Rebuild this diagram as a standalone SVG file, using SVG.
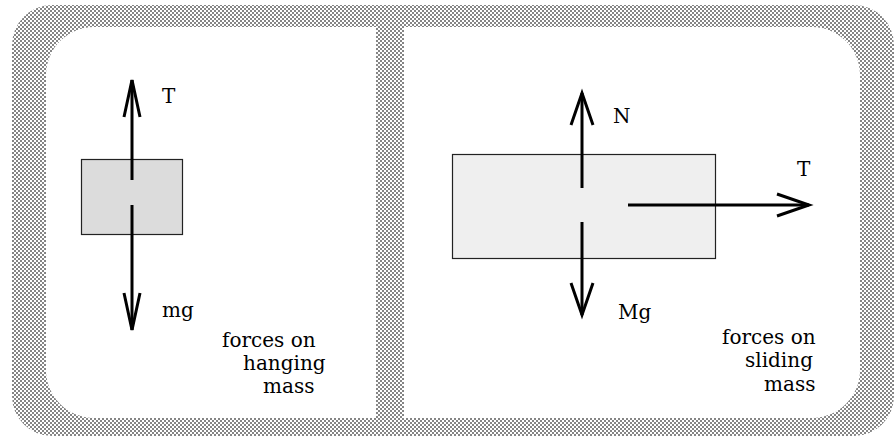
<svg xmlns="http://www.w3.org/2000/svg" width="895" height="437" viewBox="0 0 895 437">
  <style>
    .lbl { font-family: "DejaVu Serif", "Liberation Serif", serif; font-size: 20px; fill: #000; }
    .shaft { fill: none; stroke: #000; stroke-width: 3; }
    .box { stroke: #222; stroke-width: 1.2; }
    .panel { fill: #fff; }
  </style>
  <defs>
    <pattern id="dither" width="4" height="4" patternUnits="userSpaceOnUse">
      <rect width="4" height="4" fill="#fff"/>
      <rect x="0" y="0" width="2" height="2" fill="#858585"/>
      <rect x="2" y="2" width="2" height="2" fill="#858585"/>
    </pattern>
    <marker id="headL" markerUnits="userSpaceOnUse" markerWidth="44" markerHeight="24" refX="37" refY="12" orient="auto" overflow="visible">
      <path d="M0,4 L37,12 L0,20" fill="none" stroke="#000" stroke-width="3"/>
    </marker>
    <marker id="headR" markerUnits="userSpaceOnUse" markerWidth="40" markerHeight="28" refX="32" refY="14" orient="auto" overflow="visible">
      <path d="M0,3 L32,14 L0,25" fill="none" stroke="#000" stroke-width="3"/>
    </marker>
  </defs>

  <g id="frame">
    <rect x="12" y="5" width="882" height="431" rx="40" ry="40" fill="url(#dither)"/>
    <path class="panel" d="M94 27 H376 V418 H94 A48 48 0 0 1 46 370 V75 A48 48 0 0 1 94 27 Z"/>
    <path class="panel" d="M404 27 H812 A48 48 0 0 1 860 75 V370 A48 48 0 0 1 812 418 H404 Z"/>
  </g>

  <g id="hanging-mass">
    <rect class="box" x="81.5" y="159.5" width="101" height="75" fill="#dcdcdc"/>
  </g>

  <g id="sliding-mass">
    <rect class="box" x="452.5" y="154.5" width="263" height="104" fill="#efefef"/>
  </g>

  <g id="connectors">
    <path id="arrow-T-hanging" class="shaft" d="M132 180 V80" marker-end="url(#headL)"/>
    <path id="arrow-mg" class="shaft" d="M132 205 V330" marker-end="url(#headL)"/>
    <path id="arrow-N" class="shaft" d="M582 188 V93" marker-end="url(#headR)"/>
    <path id="arrow-Mg" class="shaft" d="M582 222 V315" marker-end="url(#headR)"/>
    <path id="arrow-T-sliding" class="shaft" d="M628 205 H809" marker-end="url(#headR)"/>
  </g>

  <g id="labels">
    <text class="lbl" x="162" y="103">T</text>
    <text class="lbl" x="162" y="317">mg</text>
    <text class="lbl" x="613" y="123">N</text>
    <text class="lbl" x="797" y="176">T</text>
    <text class="lbl" x="618" y="319">Mg</text>
    <text class="lbl" x="222" y="347">forces on</text>
    <text class="lbl" x="243" y="370">hanging</text>
    <text class="lbl" x="263" y="393">mass</text>
    <text class="lbl" x="722" y="344">forces on</text>
    <text class="lbl" x="745" y="367">sliding</text>
    <text class="lbl" x="764" y="391">mass</text>
  </g>
</svg>
